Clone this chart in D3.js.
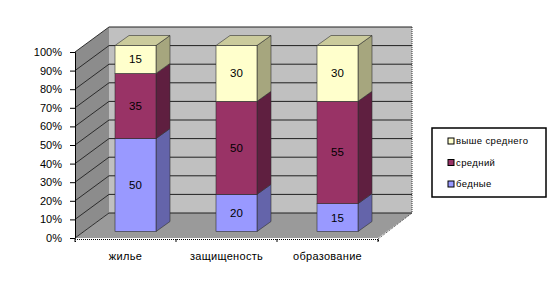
<!DOCTYPE html>
<html>
<head>
<meta charset="utf-8">
<script src="https://cdn.jsdelivr.net/npm/d3@7"></script>
<style>
  body { margin: 0; background: #fff; }
  text { font-family: "Liberation Sans", Arial, sans-serif; }
</style>
</head>
<body>
<div id="chart"></div>
<script>
// ---- data ----
const categories = ["жилье", "защищеность", "образование"];
const seriesNames = ["бедные", "средний", "выше среднего"];
const poor = [50, 20, 15];
const middle = [35, 50, 55];
const aboveMiddle = [15, 30, 30];
const yTicks = [0, 10, 20, 30, 40, 50, 60, 70, 80, 90, 100];

const series = [
  { name: seriesNames[0], values: poor, front: "#9999ff", side: "#6464aa", top: "#7a7ad0" },
  { name: seriesNames[1], values: middle, front: "#993366", side: "#5f1f40", top: "#7a2952" },
  { name: seriesNames[2], values: aboveMiddle, front: "#ffffcc", side: "#a6a67e", top: "#cbcb9c" }
];

const width = 551, height = 285;
const svg = d3.select("#chart").append("svg")
  .attr("width", width)
  .attr("height", height);

// ---- scales ----
const x = d3.scaleBand().domain(categories).range([75, 378]);
const y = d3.scaleLinear().domain([0, 100]).range([238, 52]);

// oblique depth of the whole plot and of a bar
const depth = { dx: 34, dy: -25 };
const barShift = { dx: 10, dy: -6.5 };
const barDepth = { dx: 14, dy: -10 };
const barWidth = 41;

const pts = a => a.map(p => p.join(",")).join(" ");

// ---- walls ----
const x0 = x.range()[0], x1 = x.range()[1];

// back wall
svg.append("polygon")
  .attr("points", pts([
    [x0 + depth.dx, y(100) + depth.dy], [x1 + depth.dx, y(100) + depth.dy],
    [x1 + depth.dx, y(0) + depth.dy], [x0 + depth.dx, y(0) + depth.dy]]))
  .attr("fill", "#c0c0c0");

// side wall
svg.append("polygon")
  .attr("points", pts([
    [x0, y(100)], [x0 + depth.dx, y(100) + depth.dy],
    [x0 + depth.dx, y(0) + depth.dy], [x0, y(0)]]))
  .attr("fill", "#8c8c8c");

// floor
svg.append("polygon")
  .attr("points", pts([
    [x0, y(0)], [x1, y(0)],
    [x1 + depth.dx, y(0) + depth.dy], [x0 + depth.dx, y(0) + depth.dy]]))
  .attr("fill", "#9a9a9a");

// gridlines on back wall and side wall
const grid = svg.append("g");
yTicks.forEach(t => {
  grid.append("line")
    .attr("x1", x0 + depth.dx).attr("x2", x1 + depth.dx)
    .attr("y1", y(t) + depth.dy).attr("y2", y(t) + depth.dy)
    .attr("stroke", "#202020").attr("stroke-width", 1);
  grid.append("line")
    .attr("x1", x0).attr("x2", x0 + depth.dx)
    .attr("y1", y(t)).attr("y2", y(t) + depth.dy)
    .attr("stroke", "#202020").attr("stroke-width", 0.9);
});

// dotted plot border on the right and the floor front edge
svg.append("line")
  .attr("x1", x1 + depth.dx).attr("x2", x1 + depth.dx)
  .attr("y1", y(100) + depth.dy).attr("y2", y(0) + depth.dy)
  .attr("stroke", "#333").attr("stroke-dasharray", "1 1");
svg.append("line")
  .attr("x1", x1).attr("x2", x1 + depth.dx)
  .attr("y1", y(0) + 1).attr("y2", y(0) + depth.dy)
  .attr("stroke", "#333").attr("stroke-dasharray", "1 1");

// ---- bars ----
const bars = svg.append("g");
categories.forEach((c, i) => {
  const left = x(c) + x.bandwidth() / 2 - barWidth / 2 + barShift.dx;
  const right = left + barWidth;
  let base = 0;
  series.forEach((s, si) => {
    const v = s.values[i];
    const yb = y(base) + barShift.dy;
    const yt = y(base + v) + barShift.dy;
    // side face
    bars.append("polygon")
      .attr("points", pts([[right, yt], [right + barDepth.dx, yt + barDepth.dy],
        [right + barDepth.dx, yb + barDepth.dy], [right, yb]]))
      .attr("fill", s.side).attr("stroke", "#303030").attr("stroke-width", 0.6);
    // top face on last segment
    if (si === series.length - 1) {
      bars.append("polygon")
        .attr("points", pts([[left, yt], [left + barDepth.dx, yt + barDepth.dy],
          [right + barDepth.dx, yt + barDepth.dy], [right, yt]]))
        .attr("fill", s.top).attr("stroke", "#303030").attr("stroke-width", 0.6);
    }
    // front face
    bars.append("rect")
      .attr("x", left).attr("y", yt)
      .attr("width", barWidth).attr("height", yb - yt)
      .attr("fill", s.front).attr("stroke", "#303030").attr("stroke-width", 0.6);
    bars.append("text")
      .attr("x", left + barWidth / 2)
      .attr("y", (yt + yb) / 2)
      .attr("dy", "0.35em")
      .attr("text-anchor", "middle")
      .attr("font-size", 11.5)
      .attr("fill", "#000")
      .text(v);
    base += v;
  });
});

// ---- axes ----
const yAxis = svg.append("g")
  .attr("transform", `translate(${x0},0)`)
  .call(d3.axisLeft(y).tickValues(yTicks).tickFormat(d => d + "%").tickSize(5).tickPadding(8));
yAxis.select(".domain").attr("stroke", "#000");
yAxis.selectAll("text").attr("font-size", 11).attr("font-family", "Liberation Sans, Arial, sans-serif").attr("fill", "#000");

const xAxis = svg.append("g")
  .attr("transform", `translate(0,${y(0) + 1})`)
  .call(d3.axisBottom(x).tickSizeInner(3).tickSizeOuter(3).tickPadding(10));
xAxis.select(".domain").attr("stroke", "#000").attr("stroke-dasharray", "1 1");
xAxis.selectAll(".tick line").remove();
xAxis.selectAll("text").attr("font-size", 11).attr("letter-spacing", 0.3)
  .attr("font-family", "Liberation Sans, Arial, sans-serif").attr("fill", "#000");
// category separators
const edges = categories.map(c => x(c)).concat([x1]);
edges.forEach(e => {
  xAxis.append("line").attr("x1", e).attr("x2", e).attr("y1", 0).attr("y2", 3).attr("stroke", "#000");
});

// ---- legend ----
const legend = svg.append("g").attr("transform", "translate(432,128)");
legend.append("rect")
  .attr("width", 114).attr("height", 69)
  .attr("fill", "#fff").attr("stroke", "#000").attr("stroke-width", 1.5);
const legendItems = series.slice().reverse();
legendItems.forEach((s, i) => {
  const g = legend.append("g").attr("transform", `translate(16,${13 + i * 21.5})`);
  g.append("rect")
    .attr("x", 0).attr("y", -3).attr("width", 6).attr("height", 6)
    .attr("fill", s.front).attr("stroke", "#000").attr("stroke-width", 1);
  g.append("text")
    .attr("x", 8).attr("y", 0).attr("dy", "0.35em")
    .attr("font-size", 9.5).attr("letter-spacing", 0.4)
    .text(s.name);
});
</script>
</body>
</html>
